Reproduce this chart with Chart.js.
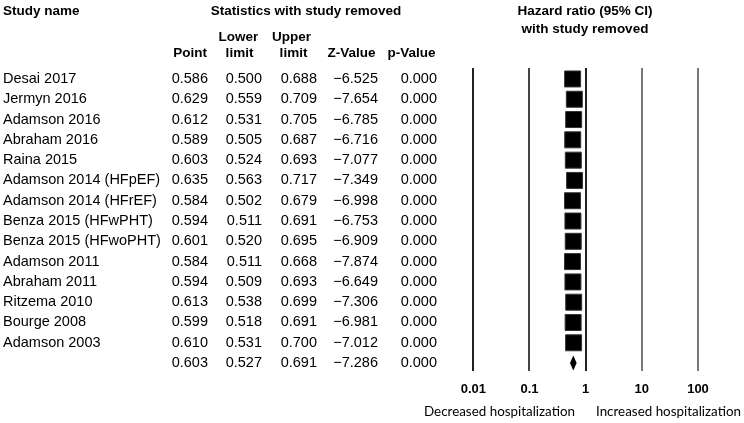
<!DOCTYPE html>
<html>
<head>
<meta charset="utf-8">
<script src="https://cdn.jsdelivr.net/npm/chart.js@4.4.1/dist/chart.umd.min.js"></script>
<style>
  html, body { margin: 0; padding: 0; background: #fff; }
  #wrap { position: relative; width: 744px; height: 423px; }
</style>
</head>
<body>
<div id="wrap"><canvas id="c" width="744" height="423"></canvas></div>
<script>
// Leave-one-out table values
const studies = ['Desai 2017', 'Jermyn 2016', 'Adamson 2016', 'Abraham 2016', 'Raina 2015',
  'Adamson 2014 (HFpEF)', 'Adamson 2014 (HFrEF)', 'Benza 2015 (HFwPHT)', 'Benza 2015 (HFwoPHT)',
  'Adamson 2011', 'Abraham 2011', 'Ritzema 2010', 'Bourge 2008', 'Adamson 2003'];
const point = [0.586, 0.629, 0.612, 0.589, 0.603, 0.635, 0.584, 0.594, 0.601, 0.584, 0.594, 0.613, 0.599, 0.610];
const lower = [0.500, 0.559, 0.531, 0.505, 0.524, 0.563, 0.502, 0.511, 0.520, 0.511, 0.509, 0.538, 0.518, 0.531];
const upper = [0.688, 0.709, 0.705, 0.687, 0.693, 0.717, 0.679, 0.691, 0.695, 0.668, 0.693, 0.699, 0.691, 0.700];
const zValue = ['−6.525', '−7.654', '−6.785', '−6.716', '−7.077', '−7.349', '−6.998', '−6.753', '−6.909',
  '−7.874', '−6.649', '−7.306', '−6.981', '−7.012'];
const pValue = ['0.000', '0.000', '0.000', '0.000', '0.000', '0.000', '0.000', '0.000', '0.000',
  '0.000', '0.000', '0.000', '0.000', '0.000'];
// overall (pooled) result
const overall = { point: 0.603, lower: 0.527, upper: 0.691, z: '−7.286', p: '0.000' };
const xTicks = [0.01, 0.1, 1, 10, 100];

const TABLE_FONT = '"Liberation Sans", Arial, sans-serif';
const FOOT_FONT = 'Lato, "Open Sans", sans-serif';

// draws the statistics table, CI whiskers, diamond and footer labels
const forestPlugin = {
  id: 'forest',
  beforeDatasetsDraw(chart) {
    const { ctx } = chart;
    const x = chart.scales.x, y = chart.scales.y;
    ctx.save();
    ctx.strokeStyle = '#000';
    ctx.lineWidth = 1;
    point.forEach((p, i) => {
      const py = Math.round(y.getPixelForValue(i)) + 0.5;
      ctx.beginPath();
      ctx.moveTo(x.getPixelForValue(lower[i]), py);
      ctx.lineTo(x.getPixelForValue(upper[i]), py);
      ctx.stroke();
    });
    // summary diamond
    const dy = y.getPixelForValue(studies.length);
    const xl = x.getPixelForValue(overall.lower);
    const xr = x.getPixelForValue(overall.upper);
    const xc = x.getPixelForValue(overall.point);
    ctx.fillStyle = '#000';
    ctx.beginPath();
    ctx.moveTo(xl, dy);
    ctx.lineTo(xc, dy - 7.5);
    ctx.lineTo(xr, dy);
    ctx.lineTo(xc, dy + 7.5);
    ctx.closePath();
    ctx.fill();
    ctx.restore();
  },
  afterDraw(chart) {
    const { ctx } = chart;
    const y = chart.scales.y;
    ctx.save();
    ctx.fillStyle = '#000';
    ctx.textBaseline = 'middle';

    // headers
    ctx.font = 'bold 13.5px ' + TABLE_FONT;
    ctx.textAlign = 'left';
    ctx.fillText('Study name', 3, 11);
    ctx.textAlign = 'center';
    ctx.fillText('Statistics with study removed', 306, 11);
    ctx.fillText('Hazard ratio (95% CI)', 585, 11);
    ctx.fillText('with study removed', 585, 29);
    ctx.fillText('Lower', 238.5, 37);
    ctx.fillText('Upper', 291.5, 37);
    ctx.fillText('Point', 190, 53);
    ctx.fillText('limit', 239.5, 53);
    ctx.fillText('limit', 293.5, 53);
    ctx.fillText('Z-Value', 351.5, 53);
    ctx.fillText('p-Value', 411.5, 53);

    // rows
    ctx.font = '14.5px ' + TABLE_FONT;
    const row = (name, a, b, c, d, e, i) => {
      const py = y.getPixelForValue(i);
      ctx.textAlign = 'left';
      ctx.fillText(name, 3, py);
      ctx.textAlign = 'right';
      ctx.fillText(a, 208, py);
      ctx.fillText(b, 262, py);
      ctx.fillText(c, 317, py);
      ctx.fillText(d, 378, py);
      ctx.fillText(e, 437, py);
    };
    studies.forEach((s, i) => row(s, point[i].toFixed(3), lower[i].toFixed(3), upper[i].toFixed(3), zValue[i], pValue[i], i));
    row('', overall.point.toFixed(3), overall.lower.toFixed(3), overall.upper.toFixed(3), overall.z, overall.p, studies.length);

    // footer labels
    ctx.font = '13.4px ' + FOOT_FONT;
    ctx.textAlign = 'right';
    ctx.fillText('Decreased hospitalization', 575, 412);
    ctx.textAlign = 'left';
    ctx.fillText('Increased hospitalization', 596, 412);
    ctx.restore();
  }
};

const gridColors = { 0.01: '#222', 0.1: '#444', 1: '#222', 10: '#777', 100: '#777' };

new Chart(document.getElementById('c'), {
  type: 'scatter',
  data: {
    datasets: [{
      data: point.map((p, i) => ({ x: p, y: i })),
      backgroundColor: '#000',
      borderColor: '#333',
      borderWidth: 1,
      pointStyle: 'rect',
      pointRadius: 11.3,
      pointHoverRadius: 11.3
    }]
  },
  options: {
    responsive: false,
    animation: false,
    events: [],
    layout: { padding: { left: 473.3, right: 46, top: 68, bottom: 0 } },
    plugins: { legend: { display: false }, tooltip: { enabled: false } },
    scales: {
      x: {
        type: 'logarithmic',
        min: 0.01,
        max: 100,
        afterBuildTicks(scale) { scale.ticks = xTicks.map(v => ({ value: v })); },
        afterFit(scale) { scale.height = 52; },
        border: { display: false },
        grid: {
          drawTicks: false,
          lineWidth: 2,
          color: ctx => gridColors[ctx.tick ? ctx.tick.value : 1] || '#555'
        },
        ticks: {
          padding: 11,
          color: '#000',
          font: { family: TABLE_FONT, size: 13, weight: 'bold' },
          callback: v => String(v),
          maxRotation: 0,
          autoSkip: false
        }
      },
      y: {
        display: false,
        reverse: true,
        min: -0.54,
        max: 14.39
      }
    }
  },
  plugins: [forestPlugin]
});
</script>
</body>
</html>
